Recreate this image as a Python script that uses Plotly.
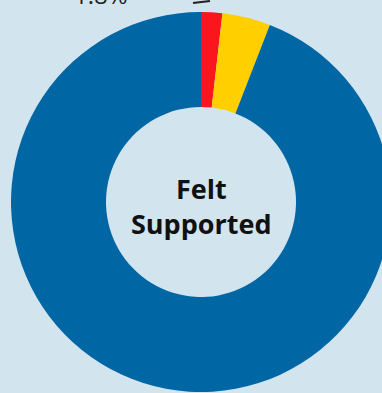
import plotly.graph_objects as go

# Support survey shares (percent)
categories = ["Did Not Feel Supported", "Unsure", "Felt Supported"]
shares = [1.8, 4.1, 94.1]
slice_colors = ["#FA161C", "#FFCF00", "#0066A4"]
center_label = "Felt<br>Supported"

BG = "#D2E4EE"
W, H = 402, 404   # page is larger than the window, so the ring is cropped like the original

fig = go.Figure()

fig.add_trace(go.Pie(
    labels=categories,
    values=shares,
    hole=0.5,
    sort=False,
    direction="clockwise",
    rotation=0,
    textinfo="none",
    hoverinfo="skip",
    marker=dict(colors=slice_colors, line=dict(width=0)),
    domain=dict(x=[11 / W, 391 / W], y=[12 / H, 392 / H]),
))

# centre text
fig.add_annotation(text="<b>%s</b>" % center_label, x=0.5, y=0.5, xref="paper", yref="paper",
                   yshift=-4, showarrow=False,
                   font=dict(family="Open Sans", size=27, color="#111111"))

# outside label of the smallest slice, cut off by the top edge
fig.add_annotation(text="%.1f%%" % shares[0], x=101 / W, y=1 + 5 / H,
                   xref="paper", yref="paper", xanchor="center", yanchor="middle",
                   showarrow=False, font=dict(family="Open Sans", size=24, color="#222222"))
fig.add_shape(type="line", xref="paper", yref="paper",
              x0=193 / W, y0=1 - 3 / H, x1=210 / W, y1=1 - 1 / H,
              line=dict(color="#222222", width=2))

fig.update_layout(
    width=W, height=H,
    margin=dict(l=0, r=0, t=0, b=0),
    paper_bgcolor=BG,
    plot_bgcolor=BG,
    showlegend=False,
)

fig.write_html("out.html", config={"displayModeBar": False},
               post_script="document.body.style.margin='0';document.body.style.overflow='hidden';"
                           "document.body.style.background='%s';" % BG)
